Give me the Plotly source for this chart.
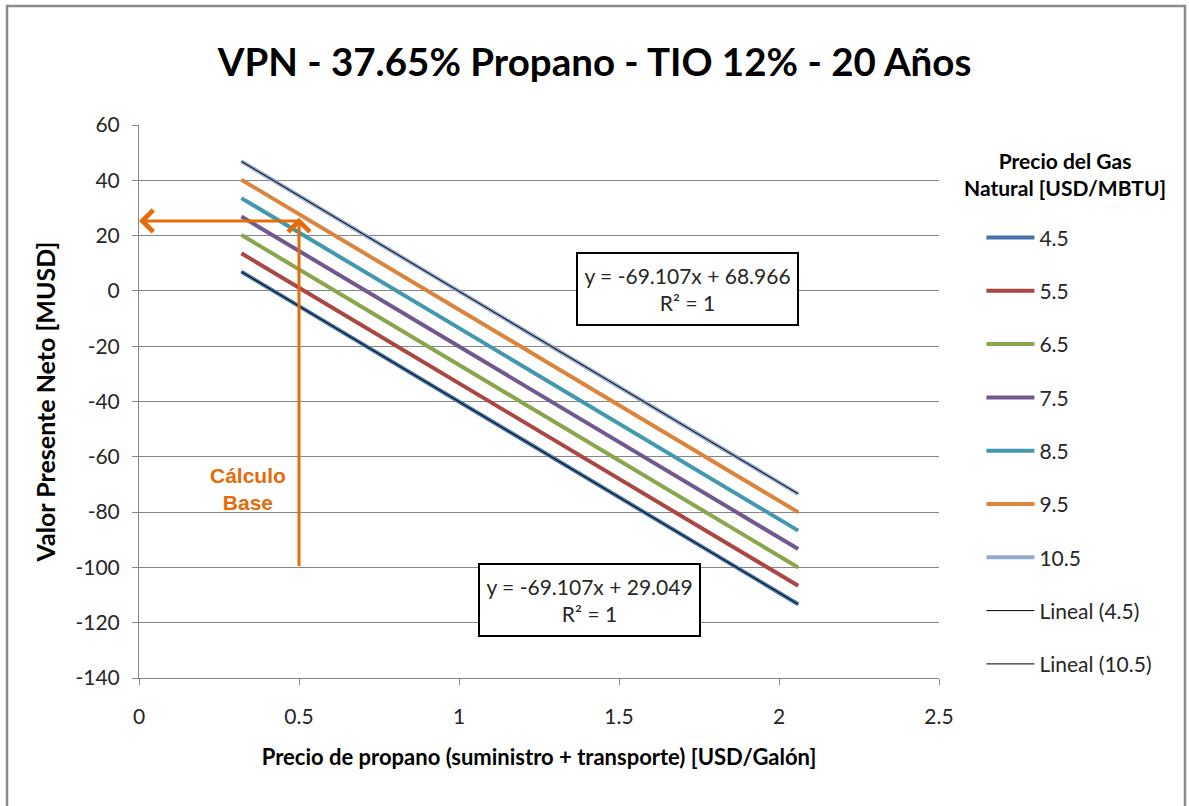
import plotly.graph_objects as go

# Precio del gas natural [USD/MBTU]
gas_prices = ["4.5", "5.5", "6.5", "7.5", "8.5", "9.5", "10.5"]
# Precio de propano [USD/Galón]
propane_price = [0.32, 2.06]
# VPN [MUSD] en cada extremo del rango de precios de propano
vpn_4_5 = [6.93, -113.31]
vpn_5_5 = [13.59, -106.66]
vpn_6_5 = [20.24, -100.01]
vpn_7_5 = [26.89, -93.35]
vpn_8_5 = [33.55, -86.70]
vpn_9_5 = [40.20, -80.05]
vpn_10_5 = [46.85, -73.40]
series_values = [vpn_4_5, vpn_5_5, vpn_6_5, vpn_7_5, vpn_8_5, vpn_9_5, vpn_10_5]

# Líneas de tendencia (pendiente, intercepto)
trend_4_5 = (-69.107, 29.049)
trend_10_5 = (-69.107, 68.966)

# Ejes
x_ticks = [0, 0.5, 1, 1.5, 2, 2.5]
x_tick_labels = ["0", "0.5", "1", "1.5", "2", "2.5"]
y_ticks = [60, 40, 20, 0, -20, -40, -60, -80, -100, -120, -140]
y_tick_labels = ["60", "40", "20", "0", "-20", "-40", "-60", "-80", "-100", "-120", "-140"]

# Caso base
base_propane = 0.5
base_vpn = 26.5
base_arrow_bottom = -100
base_line_vpn = 25.3

colors = ["#4572A7", "#AA4643", "#89A54E", "#71588F", "#4198AF", "#DB843D", "#93A9CF"]
FONT = "Lato"
TEXT = "#262626"
ORANGE = "#E46C0A"

fig = go.Figure()

for i, (name, vals) in enumerate(zip(gas_prices, series_values)):
    fig.add_trace(go.Scatter(
        x=propane_price, y=vals, mode="lines", name=name,
        line=dict(color=colors[i], width=4),
        legendgroup=f"g{i}",
    ))

for j, (label, (m, b)) in enumerate([("Lineal (4.5)", trend_4_5), ("Lineal (10.5)", trend_10_5)]):
    ys = [m * x + b for x in propane_price]
    fig.add_trace(go.Scatter(
        x=propane_price, y=ys, mode="lines", name=label,
        line=dict(color="#000000", width=1),
        legendgroup=f"t{j}",
    ))

def eq_text(m, b):
    return f"y = {m:.3f}x + {b:.3f}<br>R² = 1"

box_font = dict(family=FONT, size=21, color=TEXT)
annotations = [
    # Ecuaciones de tendencia
    dict(x=1.7156, y=0.7, xref="x", yref="y", text=eq_text(*trend_10_5),
         showarrow=False, font=box_font,
         bgcolor="white", bordercolor="#000000", borderwidth=2,
         width=217, height=68, align="center"),
    dict(x=1.409, y=-111.8, xref="x", yref="y", text=eq_text(*trend_4_5),
         showarrow=False, font=box_font,
         bgcolor="white", bordercolor="#000000", borderwidth=2,
         width=217, height=68, align="center"),
    # Flechas del cálculo base
    dict(x=base_propane, y=base_vpn, ax=base_propane, ay=base_arrow_bottom,
         xref="x", yref="y", axref="x", ayref="y", text="",
         showarrow=True, arrowhead=4, arrowsize=1.4, arrowwidth=3,
         arrowcolor=ORANGE, standoff=0),
    dict(x=0.0, y=base_line_vpn, ax=base_propane, ay=base_line_vpn,
         xref="x", yref="y", axref="x", ayref="y", text="",
         showarrow=True, arrowhead=4, arrowsize=1.4, arrowwidth=3,
         arrowcolor=ORANGE, standoff=0),
    dict(x=0.34, y=-71.5, xref="x", yref="y", text="<b>Cálculo<br>Base</b>",
         showarrow=False, font=dict(family="Liberation Sans", size=21, color=ORANGE),
         align="center"),
    # Título de la leyenda
    dict(x=1.158, y=0.911, xref="paper", yref="paper", xanchor="center", yanchor="middle",
         text="<b>Precio del Gas<br>Natural [USD/MBTU]</b>", showarrow=False,
         font=dict(family=FONT, size=21, color="#000000"), align="center"),
]

fig.update_layout(
    width=1189, height=806,
    margin=dict(l=139, r=250, t=125, b=128),
    paper_bgcolor="white", plot_bgcolor="white",
    font=dict(family=FONT, color=TEXT),
    title=dict(text="<b>VPN - 37.65% Propano - TIO 12% - 20 Años</b>",
               x=0.5, xanchor="center", y=0.923, yanchor="middle",
               font=dict(family=FONT, size=38.5, color="#000000")),
    showlegend=True,
    legend=dict(
        x=1.053, y=0.833, xanchor="left", yanchor="top",
        font=dict(family=FONT, size=21, color=TEXT),
        tracegroupgap=23, itemwidth=48, bgcolor="rgba(0,0,0,0)",
    ),
    annotations=annotations,
    shapes=[dict(type="rect", xref="paper", yref="paper",
                 x0=-0.165, x1=1.3075, y0=-0.24, y1=1.2152,
                 line=dict(color="#8C8C8C", width=2.5), fillcolor="rgba(0,0,0,0)")],
)

fig.update_xaxes(
    range=[0, 2.5], tickmode="array", tickvals=x_ticks, ticktext=x_tick_labels,
    showgrid=False, zeroline=False,
    showline=True, linecolor="#868686", linewidth=1,
    ticks="outside", ticklen=6, tickcolor="#868686", ticklabelstandoff=14,
    tickfont=dict(family=FONT, size=21, color=TEXT),
    title=dict(text="<b>Precio de propano (suministro + transporte) [USD/Galón]</b>",
               font=dict(family=FONT, size=22, color="#000000"), standoff=22),
)
fig.update_yaxes(
    range=[-140, 60], tickmode="array", tickvals=y_ticks, ticktext=y_tick_labels,
    showgrid=True, gridcolor="#868686", gridwidth=1, zeroline=False,
    showline=True, linecolor="#868686", linewidth=1,
    ticks="outside", ticklen=6, tickcolor="#868686", ticklabelstandoff=8,
    tickfont=dict(family=FONT, size=21, color=TEXT),
    title=dict(text="<b>Valor Presente Neto [MUSD]</b>",
               font=dict(family=FONT, size=25, color="#000000"), standoff=12),
)

fig.write_html("out.html")
